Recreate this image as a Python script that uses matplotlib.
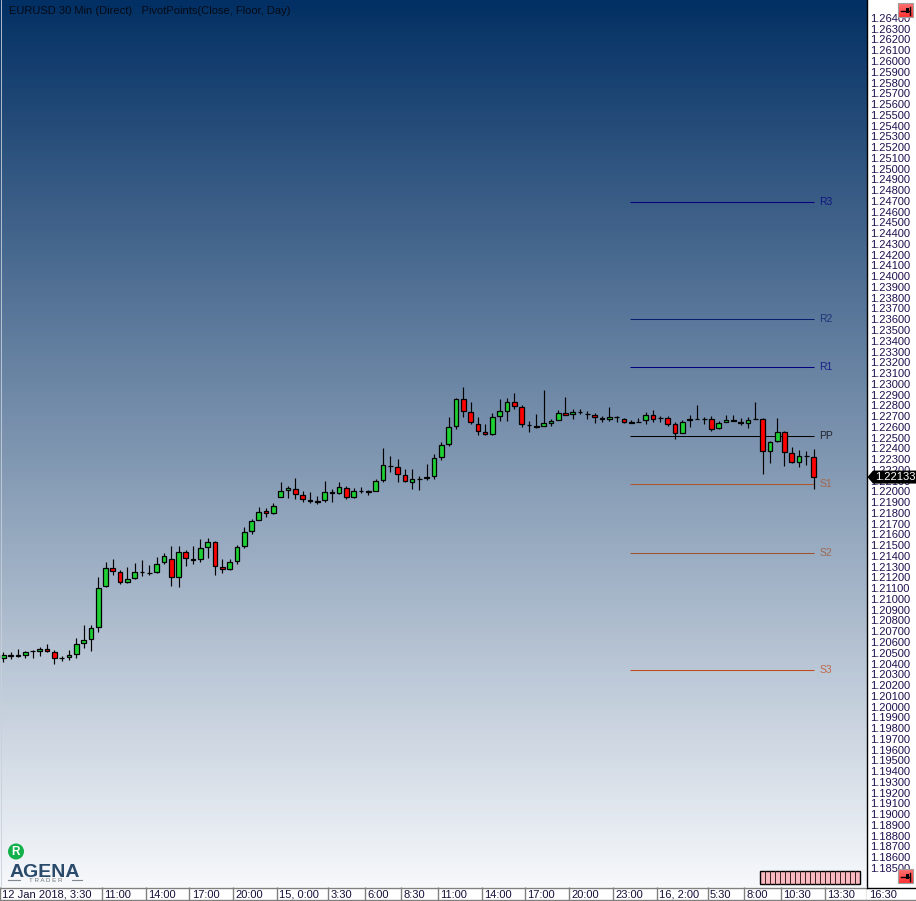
import numpy as np
import matplotlib.pyplot as plt
from matplotlib.patches import Rectangle, Polygon

plt.rcParams['font.family'] = ['Liberation Sans', 'DejaVu Sans']

# EURUSD 30 min candles
opens = [1.20453, 1.20468, 1.20468, 1.20481, 1.20514, 1.20515, 1.20537, 1.20509, 1.20449, 1.20459,
         1.20491, 1.20589, 1.20626, 1.20742, 1.21119, 1.21290, 1.21253, 1.21157, 1.21194, 1.21249,
         1.21239, 1.21250, 1.21343, 1.21374, 1.21203, 1.21439, 1.21374, 1.21370, 1.21485, 1.21531,
         1.21300, 1.21277, 1.21352, 1.21490, 1.21630, 1.21736, 1.21820, 1.21801, 1.21950, 1.22015,
         1.22024, 1.21968, 1.21922, 1.21900, 1.21922, 1.21996, 1.21987, 1.22033, 1.21950, 1.22001,
         1.21993, 1.22006, 1.22108, 1.22233, 1.22229, 1.22154, 1.22089, 1.22113, 1.22126, 1.22145,
         1.22322, 1.22442, 1.22609, 1.22860, 1.22739, 1.22628, 1.22553, 1.22535, 1.22702, 1.22749,
         1.22832, 1.22786, 1.22614, 1.22609, 1.22609, 1.22637, 1.22665, 1.22730, 1.22721, 1.22735,
         1.22716, 1.22711, 1.22683, 1.22674, 1.22688, 1.22674, 1.22637, 1.22642, 1.22665, 1.22711,
         1.22679, 1.22683, 1.22628, 1.22544, 1.22665, 1.22670, 1.22670, 1.22674, 1.22590, 1.22646,
         1.22665, 1.22646, 1.22637, 1.22670, 1.22674, 1.22378, 1.22470, 1.22553, 1.22359, 1.22275,
         1.22326, 1.22322]
highs = [1.20505, 1.20505, 1.20533, 1.20514, 1.20523, 1.20551, 1.20579, 1.20523, 1.20467, 1.20523,
         1.20635, 1.20756, 1.20756, 1.21202, 1.21342, 1.21370, 1.21267, 1.21295, 1.21332, 1.21360,
         1.21314, 1.21388, 1.21425, 1.21490, 1.21490, 1.21452, 1.21490, 1.21555, 1.21564, 1.21536,
         1.21370, 1.21370, 1.21499, 1.21666, 1.21740, 1.21852, 1.21843, 1.21889, 1.22085, 1.22047,
         1.22122, 1.22001, 1.21992, 1.21954, 1.22094, 1.22020, 1.22085, 1.22047, 1.22029, 1.22038,
         1.22010, 1.22112, 1.22401, 1.22326, 1.22299, 1.22206, 1.22206, 1.22140, 1.22252, 1.22345,
         1.22457, 1.22688, 1.22865, 1.22967, 1.22828, 1.22688, 1.22623, 1.22725, 1.22856, 1.22865,
         1.22911, 1.22800, 1.22651, 1.22716, 1.22939, 1.22670, 1.22753, 1.22874, 1.22763, 1.22763,
         1.22744, 1.22725, 1.22697, 1.22781, 1.22697, 1.22679, 1.22660, 1.22679, 1.22735, 1.22753,
         1.22697, 1.22697, 1.22642, 1.22660, 1.22707, 1.22800, 1.22688, 1.22697, 1.22651, 1.22707,
         1.22707, 1.22679, 1.22688, 1.22828, 1.22679, 1.22466, 1.22679, 1.22558, 1.22410, 1.22382,
         1.22373, 1.22391]
lows = [1.20417, 1.20445, 1.20458, 1.20454, 1.20454, 1.20473, 1.20510, 1.20399, 1.20426, 1.20436,
        1.20454, 1.20547, 1.20519, 1.20696, 1.21115, 1.21226, 1.21143, 1.21152, 1.21189, 1.21217,
        1.21226, 1.21239, 1.21329, 1.21124, 1.21115, 1.21310, 1.21329, 1.21347, 1.21383, 1.21226,
        1.21245, 1.21272, 1.21329, 1.21476, 1.21607, 1.21731, 1.21765, 1.21787, 1.21945, 1.21941,
        1.21932, 1.21904, 1.21895, 1.21880, 1.21899, 1.21901, 1.21973, 1.21927, 1.21936, 1.21982,
        1.21964, 1.22001, 1.22085, 1.22178, 1.22085, 1.22085, 1.22025, 1.22016, 1.22103, 1.22113,
        1.22289, 1.22419, 1.22577, 1.22688, 1.22623, 1.22521, 1.22521, 1.22521, 1.22651, 1.22654,
        1.22763, 1.22595, 1.22549, 1.22586, 1.22604, 1.22604, 1.22660, 1.22707, 1.22672, 1.22716,
        1.22670, 1.22632, 1.22642, 1.22651, 1.22642, 1.22632, 1.22632, 1.22642, 1.22623, 1.22642,
        1.22642, 1.22604, 1.22484, 1.22539, 1.22595, 1.22670, 1.22623, 1.22558, 1.22577, 1.22642,
        1.22651, 1.22614, 1.22586, 1.22670, 1.22159, 1.22261, 1.22457, 1.22233, 1.22261, 1.22224,
        1.22243, 1.22019]
closes = [1.20481, 1.20475, 1.20475, 1.20509, 1.20520, 1.20537, 1.20515, 1.20453, 1.20455, 1.20481,
          1.20584, 1.20621, 1.20732, 1.21104, 1.21290, 1.21259, 1.21157, 1.21188, 1.21253, 1.21255,
          1.21246, 1.21328, 1.21401, 1.21203, 1.21439, 1.21383, 1.21361, 1.21475, 1.21531, 1.21309,
          1.21277, 1.21346, 1.21485, 1.21624, 1.21727, 1.21810, 1.21801, 1.21866, 1.22006, 1.22033,
          1.21978, 1.21931, 1.21913, 1.21906, 1.21996, 1.21987, 1.22043, 1.21950, 1.22006, 1.22008,
          1.21999, 1.22099, 1.22247, 1.22240, 1.22164, 1.22099, 1.22117, 1.22119, 1.22136, 1.22312,
          1.22433, 1.22600, 1.22860, 1.22749, 1.22646, 1.22563, 1.22535, 1.22693, 1.22749, 1.22832,
          1.22795, 1.22628, 1.22620, 1.22600, 1.22637, 1.22656, 1.22730, 1.22711, 1.22739, 1.22741,
          1.22723, 1.22693, 1.22674, 1.22693, 1.22695, 1.22646, 1.22646, 1.22648, 1.22711, 1.22674,
          1.22685, 1.22628, 1.22544, 1.22646, 1.22674, 1.22676, 1.22676, 1.22581, 1.22637, 1.22665,
          1.22656, 1.22637, 1.22665, 1.22676, 1.22378, 1.22461, 1.22553, 1.22368, 1.22275, 1.22331,
          1.22333, 1.22136]

pivot_names = ['R3', 'R2', 'R1', 'PP', 'S1', 'S2', 'S3']
pivot_values = [1.24690, 1.23603, 1.23157, 1.22515, 1.22070, 1.21430, 1.20340]
pivot_colors = ['#000080', '#0a1e6e', '#000080', '#000000', '#b0552a', '#a0522d', '#c04a1e']
pivot_start = 85.85
pivot_end = 111.0

time_labels = ['12 Jan 2018, 3:30', '11:00', '14:00', '17:00', '20:00', '15, 0:00', '3:30', '6:00',
               '8:30', '11:00', '14:00', '17:00', '20:00', '23:00', '16, 2:00', '5:30', '8:00',
               '10:30', '13:30', '16:30']
time_pos = [-0.45, 13.5, 19.5, 25.5, 31.5, 37.5, 44.5, 49.5, 54.5, 59.5, 65.5, 71.5, 77.5, 83.5,
            89.5, 96.5, 101.5, 106.5, 112.5, 118.3]

price_ticks = np.arange(85, 165) / 100 * 0.1 + 1.1
price_now = 1.22133
title = 'EURUSD 30 Min (Direct)   PivotPoints(Close, Floor, Day)'

W, H = 916, 901
PLOT_W, PLOT_H = 867, 887
x_lim = (-0.452, 118.3)
y_lim = (1.18323, 1.26567)
label_color = '#20104f'

fig = plt.figure(figsize=(W / 100, H / 100), dpi=100, facecolor='white')

# price panel
ax = fig.add_axes([0, (H - PLOT_H) / H, PLOT_W / W, PLOT_H / H])
top = np.array([3, 48, 100]) / 255
bottom = np.array([246, 248, 251]) / 255
grad = np.linspace(0, 1, 256)[:, None, None] * (bottom - top) + top
ax.imshow(grad, extent=[x_lim[0], x_lim[1], y_lim[0], y_lim[1]], aspect='auto', origin='upper', zorder=0)

xs = np.arange(len(opens))
ax.vlines(xs, lows, highs, color='black', linewidth=0.85, zorder=3)
body_low = [min(o, c) for o, c in zip(opens, closes)]
body_size = [abs(c - o) for o, c in zip(opens, closes)]
colors = ['#1fd035' if c >= o else '#ff0000' for o, c in zip(opens, closes)]
ax.bar(xs, body_size, bottom=body_low, width=0.64, color=colors, edgecolor='black', linewidth=0.9, zorder=4)

# pivot lines
ax.hlines(pivot_values, pivot_start, pivot_end, colors=pivot_colors, linewidth=0.75, zorder=2)
for name, val, col in zip(pivot_names, pivot_values, pivot_colors):
    ax.text(pivot_end + 0.8, val, name, color=col, fontsize=7.5, va='center', ha='left', alpha=0.75)

ax.set_xlim(x_lim)
ax.set_ylim(y_lim)
ax.set_xticks([])
ax.yaxis.tick_right()
ax.set_yticks(price_ticks)
ax.set_yticklabels(['%.5f' % p for p in price_ticks], fontsize=8, color=label_color)
ax.tick_params(axis='y', length=0, pad=2.0)
for s in ['top', 'left', 'bottom']:
    ax.spines[s].set_visible(False)
ax.spines['right'].set_color('black')
ax.spines['right'].set_linewidth(1.0)

ax.text(9 / PLOT_W, 1 - 11 / PLOT_H, title, transform=ax.transAxes, fontsize=8, color='#050a14',
        va='center', ha='left', zorder=6)

# time strip
ax_t = fig.add_axes([0, 0, PLOT_W / W, (H - PLOT_H) / H])
ax_t.set_xlim(x_lim)
ax_t.set_ylim(0, 1)
ax_t.vlines(time_pos, 0.08, 1, color='#808080', linewidth=1.0)
for pos, lab in zip(time_pos, time_labels):
    ax_t.annotate(lab, (pos, 0.45), xytext=(1.6, 0), textcoords='offset points', fontsize=8,
                  color='#15103a', va='center', ha='left', annotation_clip=False)
ax_t.set_xticks([])
ax_t.set_yticks([])
for s in ax_t.spines.values():
    s.set_visible(False)

# window furniture, in pixels
ov = fig.add_axes([0, 0, 1, 1], zorder=10)
ov.patch.set_alpha(0)
ov.axis('off')
ov.plot([0, 867], [887.5, 887.5], color='#808080', linewidth=1.0)
ov.plot([867, 916], [887.5, 887.5], color='black', linewidth=1.0)
ov.plot([0, 916], [900, 900], color='#808080', linewidth=1.0)
ov.plot([0.5, 0.5], [0, 887], color='#c8d0da', linewidth=0.6)

# current price tag
tag_y = (y_lim[1] - price_now) / (y_lim[1] - y_lim[0]) * PLOT_H
ov.add_patch(Polygon([(867.5, tag_y), (873, tag_y - 6.5), (916, tag_y - 6.5), (916, tag_y + 6.5),
                      (873, tag_y + 6.5)], closed=True, facecolor='black', edgecolor='none'))
ov.text(875.5, tag_y, '%.5f' % price_now, color='white', fontsize=8, va='center', ha='left')

# pin buttons
button = np.linspace(0, 1, 32)[:, None, None] * np.array([0.0, -0.25, -0.25]) + np.array([1.0, 0.45, 0.45])
for y0 in [3, 869]:
    ov.imshow(button, extent=[898, 913, y0 + 14, y0], aspect='auto', zorder=5)
    ov.add_patch(Rectangle((898, y0), 15, 14, facecolor='none', edgecolor='#a0a0a0', linewidth=0.8, zorder=6))
    ov.plot([901, 909], [y0 + 8, y0 + 8], color='black', linewidth=1.0, zorder=7)
    ov.add_patch(Rectangle((906, y0 + 5), 3, 5, facecolor='black', edgecolor='none', zorder=7))
    ov.plot([909.5, 909.5], [y0 + 4, y0 + 12], color='black', linewidth=1.0, zorder=7)

# pink scroll widget
ov.add_patch(Rectangle((760, 871), 100, 12.5, facecolor='#f9b9c0', edgecolor='black', linewidth=1.0))
for i in range(1, 20):
    ov.plot([760 + i * 5, 760 + i * 5], [871, 883.5], color='#3a2020', linewidth=0.7)

# logo
ov.add_patch(plt.Circle((16, 851.5), 8, facecolor='#12b04a', edgecolor='none'))
ov.text(16, 852, 'R', color='white', fontsize=8.5, fontweight='bold', va='center', ha='center')
ov.text(45, 877, 'AGENA', color='#2a4a6c', fontsize=14, fontweight='bold', va='baseline', ha='center')
ov.text(46, 880, 'T R A D E R', color='#707880', fontsize=4.5, va='center', ha='center')
ov.plot([8, 20], [880, 880], color='#808890', linewidth=0.8)
ov.plot([72, 82], [880, 880], color='#808890', linewidth=0.8)

ov.set_xlim(0, W)
ov.set_ylim(H, 0)

fig.savefig('out.png', dpi=100)
